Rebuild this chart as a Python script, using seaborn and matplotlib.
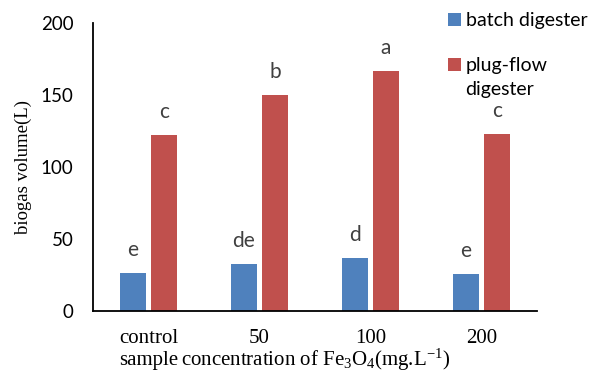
import matplotlib
matplotlib.use("Agg")
import matplotlib.pyplot as plt
import seaborn as sns
import pandas as pd
from matplotlib.patches import Patch

categories = ["control\nsample", "50", "100", "200"]
batch = [26.0, 32.5, 36.7, 25.6]
plugflow = [122.2, 149.8, 166.2, 122.7]
batch_letters = ["e", "de", "d", "e"]
plug_letters = ["c", "b", "a", "c"]
series = ["batch digester", "plug-flow\ndigester"]
colors = ["#4F81BD", "#C0504D"]

df = pd.DataFrame({
    "cat": categories * 2,
    "value": batch + plugflow,
    "series": [series[0]] * 4 + [series[1]] * 4,
})

sns.set_style("white")
plt.rcParams["font.family"] = ["Lato", "DejaVu Sans"]
plt.rcParams["mathtext.fontset"] = "custom"
plt.rcParams["mathtext.rm"] = "Liberation Serif"
plt.rcParams["mathtext.it"] = "Liberation Serif:italic"
plt.rcParams["text.color"] = "black"

fig = plt.figure(figsize=(5.97, 3.76), dpi=100)
ax = fig.add_axes([93 / 597, 1 - 310.7 / 376, 444 / 597, 288 / 376])

sns.barplot(data=df, x="cat", y="value", hue="series", order=categories,
            hue_order=series, palette=colors, width=0.56, gap=0.19,
            ax=ax, legend=False, saturation=1, edgecolor="none")

ax.set_ylim(0, 200)
ax.set_yticks([0, 50, 100, 150, 200])
ax.set_xlim(-0.5, 3.5)
for s in ["top", "right"]:
    ax.spines[s].set_visible(False)
for s in ["left", "bottom"]:
    ax.spines[s].set_color("black")
    ax.spines[s].set_linewidth(1.3)
ax.tick_params(axis="y", length=0, pad=14, labelsize=13.5, labelcolor="black")
ax.tick_params(axis="x", length=0, pad=13, labelsize=15, labelcolor="black")
for lab in ax.get_xticklabels():
    lab.set_fontfamily("Liberation Serif")
    lab.set_linespacing(1.25)

ax.set_ylabel("biogas volume(L)", fontfamily="Liberation Serif", fontsize=13.5,
              labelpad=6, color="black")
ax.set_xlabel("concentration of Fe$_3$O$_4$(mg.L$^{-1}$)", fontfamily="Liberation Serif",
              fontsize=15, color="black", va="baseline")
ax.xaxis.set_label_coords(0.502, -(366 - 310.7) / 288)

for cont, labs in zip(ax.containers, [batch_letters, plug_letters]):
    ax.bar_label(cont, labels=labs, padding=9.5, fontsize=15, color="#404040")

handles = [Patch(facecolor=c, edgecolor="none") for c in colors]
leg_labels = [series[0], series[1].split("\n")[0]]
leg = fig.legend(handles, leg_labels, loc="upper left", bbox_to_anchor=(448 / 597, 0.968),
                 frameon=False, fontsize=14, handlelength=0.68, handleheight=0.68,
                 handletextpad=0.22, labelspacing=1.45, borderpad=0, borderaxespad=0,
                 labelcolor="black")

fig.canvas.draw()
bb = leg.get_texts()[1].get_window_extent()
inv = fig.transFigure.inverted()
x0, y0 = inv.transform((bb.x0, bb.y0))
fig.text(x0, y0 - 24 / 376, series[1].split("\n")[1], fontsize=14, ha="left",
         va="bottom", color="black")

fig.savefig("out.png", dpi=100)
